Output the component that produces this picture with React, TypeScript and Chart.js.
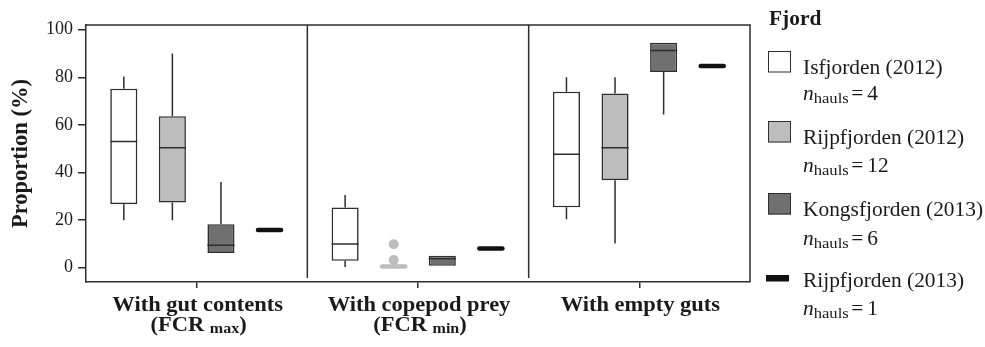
import React, { useEffect, useRef } from "react";
import { Chart, registerables } from "chart.js";

Chart.register(...registerables);

// ---------------- data ----------------
const categories = ["With gut contents", "With copepod prey", "With empty guts"];
const categorySubs = ["max", "min", ""];
const seriesNames = ["Isfjorden (2012)", "Rijpfjorden (2012)", "Kongsfjorden (2013)", "Rijpfjorden (2013)"];
const haulCounts = [4, 12, 6, 1];
const seriesColors = ["#ffffff", "#bdbdbd", "#707070", "#111111"];
const yTicks = [0, 20, 40, 60, 80, 100];

// five-number summaries per category: [min, q1, median, q3, max]
const isf2012 = [
  [20, 26.7, 53, 75.2, 80.4],
  [0.3, 2.9, 10, 25.3, 30.6],
  [20.4, 25.4, 47.7, 74, 80],
];
const rij2012 = [
  [20, 27.4, 50.4, 63.7, 90],
  [0.5, 0.5, 0.5, 0.5, 0.5],
  [10.2, 36.8, 50.4, 73.2, 80],
];
const rij2012Outliers = [[], [3.2, 9.9], []];
const kon2013 = [
  [6.2, 6.2, 9.4, 18.3, 36],
  [0.8, 0.8, 3.8, 5, 5],
  [64.4, 82.3, 91.3, 94.5, 94.5],
];
const rij2013 = [15.9, 8.1, 84.8];

const seriesStats = [
  isf2012,
  rij2012,
  kon2013,
  rij2013.map((v) => [v, v, v, v, v]),
];
const seriesOutliers = [[[], [], []], rij2012Outliers, [[], [], []], [[], [], []]];

const FONT = '"Liberation Serif", "Times New Roman", serif';
const INK = "#2e2e2e";
const TEXT = "#1a1a1a";
const SX = 1.07;

function txt(ctx: CanvasRenderingContext2D, s: string, x: number, y: number, align: CanvasTextAlign = "left") {
  ctx.save();
  ctx.translate(x, y);
  ctx.scale(SX, 1);
  ctx.textAlign = align;
  ctx.fillText(s, 0, 0);
  ctx.restore();
}
function w(ctx: CanvasRenderingContext2D, s: string) {
  return ctx.measureText(s).width * SX;
}

const boxPlugin = {
  id: "boxExtras",
  beforeDatasetsDraw(chart: any) {
    const { ctx, chartArea, scales } = chart;
    const x = scales.x;
    ctx.save();
    ctx.strokeStyle = INK;
    ctx.lineWidth = 1.5;
    ctx.beginPath();
    ctx.moveTo(chartArea.left, chartArea.top);
    ctx.lineTo(chartArea.right, chartArea.top);
    ctx.lineTo(chartArea.right, chartArea.bottom);
    ctx.stroke();
    for (let i = 0; i < categories.length - 1; i++) {
      const xd = (x.getPixelForValue(i) + x.getPixelForValue(i + 1)) / 2;
      ctx.beginPath();
      ctx.moveTo(xd, chartArea.top);
      ctx.lineTo(xd, chartArea.bottom - 4);
      ctx.stroke();
    }
    ctx.restore();
  },
  afterDatasetsDraw(chart: any) {
    const { ctx, scales } = chart;
    const y = scales.y;
    ctx.save();
    seriesStats.forEach((stats, si) => {
      const meta = chart.getDatasetMeta(si);
      stats.forEach((s, ci) => {
        const el = meta.data[ci];
        if (!el) return;
        const cx = el.x;
        const bw = el.width;
        const [mn, q1, md, q3, mx] = s;
        if (q3 - q1 < 0.01) {
          ctx.strokeStyle = seriesColors[si];
          ctx.lineWidth = 4.5;
          ctx.lineCap = "round";
          ctx.beginPath();
          ctx.moveTo(cx - bw / 2 + 2, y.getPixelForValue(md));
          ctx.lineTo(cx + bw / 2 - 2, y.getPixelForValue(md));
          ctx.stroke();
          ctx.lineCap = "butt";
        } else {
          ctx.strokeStyle = INK;
          ctx.lineWidth = 1.5;
          ctx.beginPath();
          if (mx > q3) {
            ctx.moveTo(cx, y.getPixelForValue(q3));
            ctx.lineTo(cx, y.getPixelForValue(mx));
          }
          if (mn < q1) {
            ctx.moveTo(cx, y.getPixelForValue(q1));
            ctx.lineTo(cx, y.getPixelForValue(mn));
          }
          ctx.moveTo(cx - bw / 2, y.getPixelForValue(md));
          ctx.lineTo(cx + bw / 2, y.getPixelForValue(md));
          ctx.stroke();
        }
        const outs = seriesOutliers[si][ci];
        outs.forEach((v: number) => {
          ctx.fillStyle = seriesColors[si];
          ctx.beginPath();
          ctx.arc(cx, y.getPixelForValue(v), 5, 0, Math.PI * 2);
          ctx.fill();
        });
      });
    });
    ctx.restore();
  },
  afterDraw(chart: any) {
    const { ctx, scales } = chart;
    const x = scales.x;
    ctx.save();
    ctx.fillStyle = TEXT;
    ctx.textBaseline = "alphabetic";
    categories.forEach((c, i) => {
      const cx = x.getPixelForValue(i);
      ctx.font = `bold 21px ${FONT}`;
      txt(ctx, c, cx + 1, 311, "center");
      const sub = categorySubs[i];
      if (sub) {
        const a = "(FCR ";
        const cpar = ")";
        ctx.font = `bold 21px ${FONT}`;
        const wa = w(ctx, a);
        const wc = w(ctx, cpar);
        ctx.font = `bold 15px ${FONT}`;
        const wb = w(ctx, sub);
        let sx = cx + 2 - (wa + wb + wc) / 2;
        ctx.font = `bold 21px ${FONT}`;
        txt(ctx, a, sx, 331);
        sx += wa;
        ctx.font = `bold 15px ${FONT}`;
        txt(ctx, sub, sx, 333);
        sx += wb;
        ctx.font = `bold 21px ${FONT}`;
        txt(ctx, cpar, sx, 331);
      }
    });
    // legend
    ctx.font = `bold 20px ${FONT}`;
    txt(ctx, "Fjord", 769, 25);
    const bases = [74, 144, 216, 287];
    const nBases = [100, 172, 245, 315];
    seriesNames.forEach((name, i) => {
      const b = bases[i];
      if (i < 3) {
        ctx.fillStyle = seriesColors[i];
        ctx.fillRect(768, b - 23, 23, 21.5);
        ctx.strokeStyle = INK;
        ctx.lineWidth = 1;
        ctx.strokeRect(768.5, b - 22.5, 22, 20.5);
      } else {
        ctx.fillStyle = seriesColors[i];
        ctx.fillRect(766, b - 12, 23, 6.5);
      }
      ctx.fillStyle = TEXT;
      ctx.font = `20px ${FONT}`;
      txt(ctx, name, 803, b);
      const nb = nBases[i];
      let sx = 803;
      ctx.font = `italic 20px ${FONT}`;
      txt(ctx, "n", sx, nb);
      sx += w(ctx, "n");
      ctx.font = `15.5px ${FONT}`;
      txt(ctx, "hauls", sx, nb + 3);
      sx += w(ctx, "hauls") + 2.5;
      ctx.font = `20px ${FONT}`;
      txt(ctx, "=", sx, nb);
      sx += w(ctx, "=") + 4;
      txt(ctx, String(haulCounts[i]), sx, nb);
    });
    ctx.restore();
  },
};

export default function App() {
  const ref = useRef<HTMLCanvasElement | null>(null);
  useEffect(() => {
    if (!ref.current) return;
    Chart.defaults.font.family = FONT;
    const datasets = seriesNames.map((name, si) => ({
      label: name,
      data: seriesStats[si].map((s) => [s[1], s[3]]),
      backgroundColor: seriesColors[si],
      borderColor: INK,
      borderWidth: 1.6,
      borderSkipped: false as any,
      categoryPercentage: 0.878,
      barPercentage: 0.557,
    }));
    const chart = new Chart(ref.current, {
      type: "bar",
      data: { labels: categories, datasets: datasets as any },
      options: {
        animation: false,
        responsive: true,
        maintainAspectRatio: false,
        events: [],
        layout: { padding: { top: 25, right: 235, left: 0, bottom: 0 } },
        plugins: { legend: { display: false }, tooltip: { enabled: false } },
        scales: {
          x: {
            type: "category",
            offset: true,
            grid: {
              offset: false,
              drawOnChartArea: false,
              drawTicks: true,
              tickLength: 6,
              color: INK,
              lineWidth: 1.5,
            },
            border: { display: true, color: INK, width: 1.5 },
            ticks: { display: false },
            afterFit: (s: any) => {
              s.height = 65;
            },
          },
          y: {
            min: -6,
            max: 102,
            afterBuildTicks: (s: any) => {
              s.ticks = yTicks.map((v) => ({ value: v }));
            },
            grid: {
              drawOnChartArea: false,
              drawTicks: true,
              tickLength: 8,
              color: INK,
              lineWidth: 1.5,
            },
            border: { display: true, color: INK, width: 1.5 },
            ticks: {
              font: { size: 18, family: FONT },
              color: TEXT,
              padding: 5,
            },
            title: {
              display: true,
              text: "Proportion (%)",
              font: { size: 22.5, weight: "bold", family: FONT },
              color: TEXT,
              padding: { top: 8, bottom: 0 },
            },
            afterFit: (s: any) => {
              s.width = 86;
            },
          },
        },
      },
      plugins: [boxPlugin],
    });
    return () => chart.destroy();
  }, []);
  return (
    <div style={{ position: "fixed", left: 0, top: 0, width: 985, height: 347, background: "#fff" }}>
      <canvas ref={ref} />
    </div>
  );
}
